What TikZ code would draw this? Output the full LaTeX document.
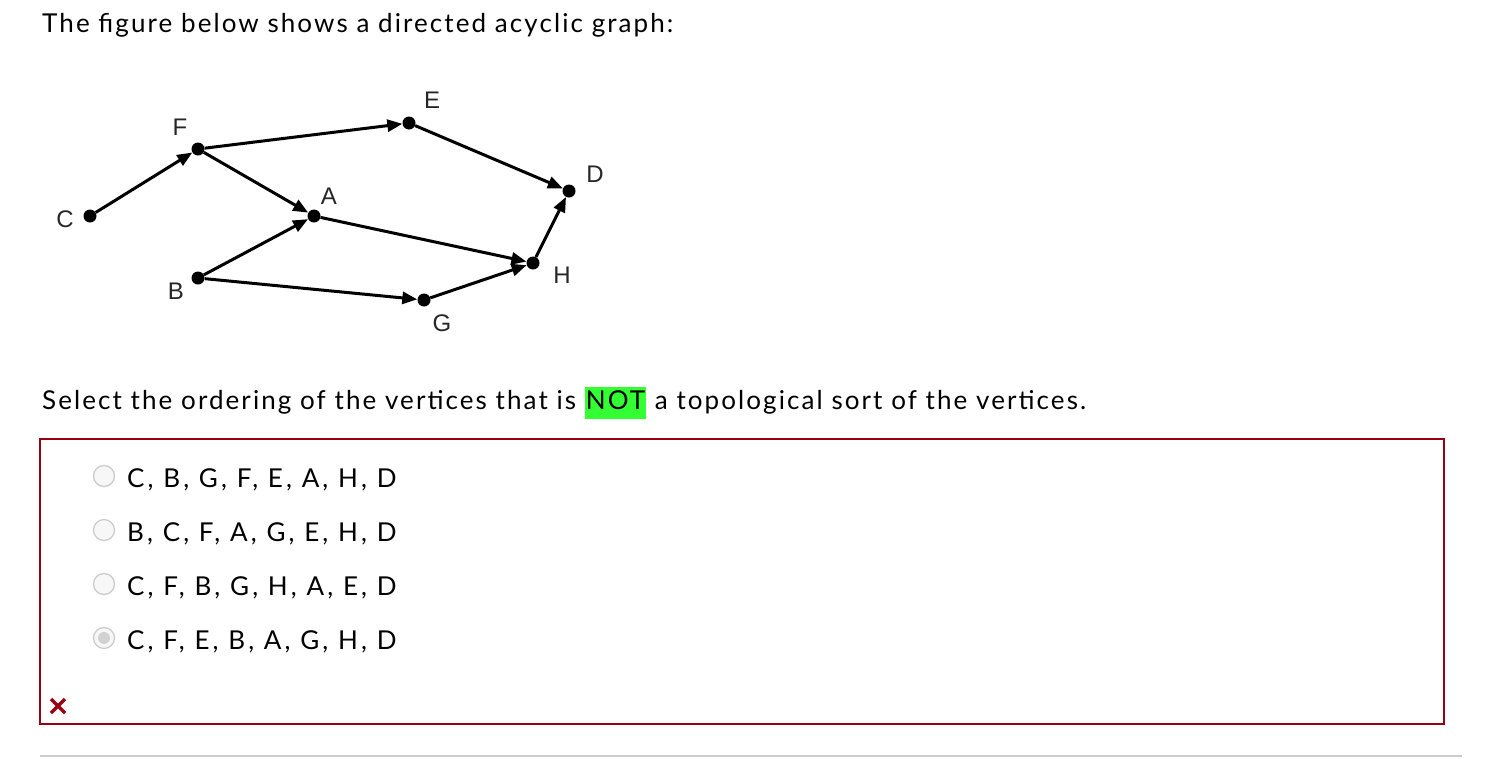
\documentclass[tikz,border=0pt]{standalone}
\usepackage{fontspec}
\setmainfont{Lato}[LetterSpace=8]
\newfontfamily\optfont{Lato}[LetterSpace=12]
\newfontfamily\graphfont{Liberation Sans}
\usetikzlibrary{positioning,arrows.meta}
\definecolor{boxred}{HTML}{990012}
\definecolor{hlgreen}{HTML}{33FF33}
\tikzset{
	vertex/.style={circle,fill=black,inner sep=0pt,minimum size=13pt},
	vlabel/.style={font=\graphfont\fontsize{24}{24}\selectfont,text=black!85,inner sep=0pt},
	edge/.style={line width=3pt,-{Triangle[length=15pt,width=12pt]}},
	bodytext/.style={font=\fontsize{26}{30}\selectfont,inner sep=0pt,anchor=base west},
	opttext/.style={font=\optfont\fontsize{26}{30}\selectfont,inner sep=0pt,anchor=base west},
	radio/.style={circle,draw=gray!40,fill=gray!6,line width=1.3pt,minimum size=21pt,inner sep=0pt},
}

\begin{document}
\begin{tikzpicture}[x=1pt,y=-1pt]
		\useasboundingbox (0,0) rectangle (1510,758);
		
		\node[bodytext] (title) at (42,32) {The figure below shows a directed acyclic graph:};
		
		% the graph
		\node[vertex] (c) at (90,216) {};
		\node[vertex] (f) at (198,149) {};
		\node[vertex] (e) at (409,123) {};
		\node[vertex] (d) at (569,191) {};
		\node[vertex] (a) at (314,216) {};
		\node[vertex] (h) at (533,263) {};
		\node[vertex] (b) at (198,278) {};
		\node[vertex] (g) at (424,300) {};
		
		\node[vlabel] (lc) at (65,219) {C};
		\node[vlabel] (lf) at (180,127) {F};
		\node[vlabel] (le) at (432,100) {E};
		\node[vlabel] (ld) at (595,174) {D};
		\node[vlabel] (la) at (329,196) {A};
		\node[vlabel] (lh) at (562,275) {H};
		\node[vlabel] (lb) at (176,291) {B};
		\node[vlabel] (lg) at (442,323) {G};
		
		\draw[edge] (c)--(f);
		\draw[edge] (f)--(e);
		\draw[edge] (f)--(a);
		\draw[edge] (e)--(d);
		\draw[edge] (a)--(h);
		\draw[edge] (b)--(a);
		\draw[edge] (b)--(g);
		\draw[edge] (g)--(h);
		\draw[edge] (h)--(d);
		
		\node[bodytext] (question) at (42,409) {Select the ordering of the vertices that is {\setlength{\fboxsep}{1pt}\colorbox{hlgreen}{\strut NOT}} a topological sort of the vertices.};
		
		% answer box
		\draw[boxred,line width=2pt] (40,439) rectangle (1444,724);
		
		\node[radio] (r1) at (104,476) {};
		\node[radio] (r2) at (104,530) {};
		\node[radio] (r3) at (104,584) {};
		\node[radio] (r4) at (104,638) {};
		\node[circle,fill=gray!35,inner sep=0pt,minimum size=12pt] (dot4) at (r4) {};
		
		\node[opttext] (o1) at (127,487) {C, B, G, F, E, A, H, D};
		\node[opttext] (o2) at (127,541) {B, C, F, A, G, E, H, D};
		\node[opttext] (o3) at (127,595) {C, F, B, G, H, A, E, D};
		\node[opttext] (o4) at (127,649) {C, F, E, B, A, G, H, D};
		
		% wrong mark
		\coordinate (x) at (58,706);
		\draw[boxred,line width=3.5pt] ([shift={(-7,-7)}]x)--([shift={(7,7)}]x);
		\draw[boxred,line width=3.5pt] ([shift={(-7,7)}]x)--([shift={(7,-7)}]x);
		
		\draw[gray!40,line width=2pt] (40,756)--(1462,756);
	\end{tikzpicture}
\end{document}
